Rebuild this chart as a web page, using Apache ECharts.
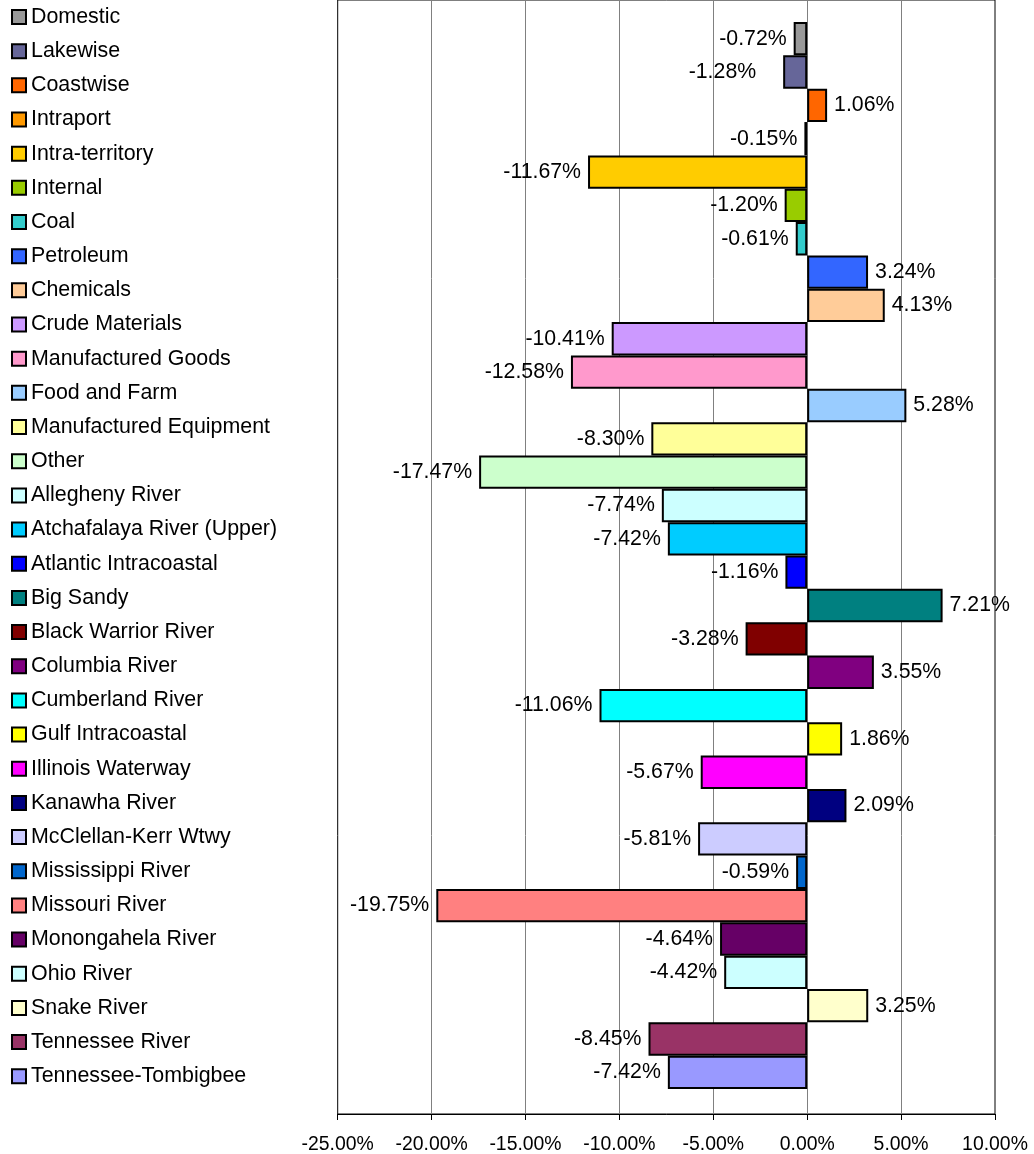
<!DOCTYPE html>
<html>
<head>
<meta charset="utf-8">
<script src="https://cdn.jsdelivr.net/npm/echarts@6/dist/echarts.min.js"></script>
<style>
html,body{margin:0;padding:0;background:#fff;}
#chart{width:1034px;height:1154px;}
</style>
</head>
<body>
<div id="chart"></div>
<script>
const categories = ["Domestic","Lakewise","Coastwise","Intraport","Intra-territory","Internal","Coal","Petroleum","Chemicals","Crude Materials","Manufactured Goods","Food and Farm","Manufactured Equipment","Other","Allegheny River","Atchafalaya River (Upper)","Atlantic Intracoastal","Big Sandy","Black Warrior River","Columbia River","Cumberland River","Gulf Intracoastal","Illinois Waterway","Kanawha River","McClellan-Kerr Wtwy","Mississippi River","Missouri River","Monongahela River","Ohio River","Snake River","Tennessee River","Tennessee-Tombigbee"];
const values = [-0.72,-1.28,1.06,-0.15,-11.67,-1.20,-0.61,3.24,4.13,-10.41,-12.58,5.28,-8.30,-17.47,-7.74,-7.42,-1.16,7.21,-3.28,3.55,-11.06,1.86,-5.67,2.09,-5.81,-0.59,-19.75,-4.64,-4.42,3.25,-8.45,-7.42];
const colors = ["#999999","#666699","#FF6600","#FF9900","#FFCC00","#99CC00","#33CCCC","#3366FF","#FFCC99","#CC99FF","#FF99CC","#99CCFF","#FFFF99","#CCFFCC","#CCFFFF","#00CCFF","#0000FF","#008080","#800000","#800080","#00FFFF","#FFFF00","#FF00FF","#000080","#CCCCFF","#0066CC","#FF8080","#660066","#CCFFFF","#FFFFCC","#993366","#9999FF"];
const axisMin = -25, axisMax = 10, axisStep = 5;

const FONT = '"Liberation Sans", Arial, sans-serif';
const fmt = v => Number(v).toFixed(2) + '%';

const series = categories.map((name, i) => ({
  name: name,
  type: 'bar',
  stack: 'all',
  xAxisIndex: 1,
  yAxisIndex: 1,
  barCategoryGap: '0%',
  barGap: '0%',
  data: categories.map((c, j) => (j === i ? values[i] : null)),
  itemStyle: { color: colors[i], borderColor: '#000', borderWidth: 2 },
  label: {
    show: true,
    position: values[i] < 0 ? 'left' : 'right',
    distance: name === 'Lakewise' ? 27 : 7,
    formatter: p => fmt(p.value),
    fontSize: 21.3,
    fontFamily: FONT,
    color: '#000'
  },
  emphasis: { disabled: true },
  animation: false
}));

const chart = echarts.init(document.getElementById('chart'), null, { renderer: 'canvas' });
chart.setOption({
  backgroundColor: '#fff',
  animation: false,
  legend: {
    orient: 'vertical',
    left: 11,
    top: 6.5,
    padding: 0,
    icon: 'rect',
    itemWidth: 14,
    itemHeight: 14,
    itemGap: 13.17,
    selectedMode: false,
    textStyle: { fontSize: 21.4, fontFamily: FONT, color: '#000', lineHeight: 21 },
    data: categories
  },
  grid: [
    { left: 337.7, right: 39, top: -6, bottom: 40, show: true, borderColor: '#000', borderWidth: 1, backgroundColor: 'transparent' },
    { left: 337.7, right: 39, top: 22, bottom: 65 }
  ],
  xAxis: [
    {
      gridIndex: 0, type: 'value', min: axisMin, max: axisMax, interval: axisStep,
      axisLine: { show: true, lineStyle: { color: '#000', width: 1 } },
      axisTick: { show: true, length: 6, lineStyle: { color: '#000' } },
      splitLine: { show: true, showMinLine: false, showMaxLine: false, lineStyle: { color: '#808080', width: 1 } },
      axisLabel: { formatter: v => fmt(v), fontSize: 19.4, fontFamily: FONT, color: '#000', margin: 21 }
    },
    {
      gridIndex: 1, type: 'value', min: axisMin, max: axisMax, interval: axisStep,
      show: false
    }
  ],
  yAxis: [
    { gridIndex: 0, type: 'category', data: categories, show: false },
    { gridIndex: 1, type: 'category', data: categories, inverse: true, show: false }
  ],
  series: series
});
</script>
</body>
</html>
